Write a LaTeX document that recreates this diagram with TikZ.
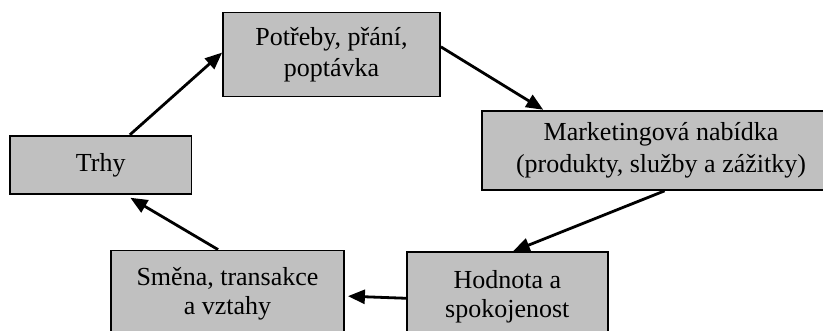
\documentclass[tikz,border=0pt]{standalone}
\usepackage{fontspec}
\setmainfont{Liberation Serif}
\usetikzlibrary{arrows.meta}
\definecolor{boxgray}{HTML}{C0C0C0}
\begin{document}
\begin{tikzpicture}[x=1pt,y=-1pt,
  stage/.style={draw=black, line width=1.8pt, fill=boxgray, align=center,
    inner sep=0pt, font=\fontsize{26}{31.5}\selectfont},
  flow/.style={line width=2.8pt, -{Triangle[length=17pt,width=14pt]}}]
\useasboundingbox (0,0) rectangle (823,330);
\clip (0,0) rectangle (823,330);
\node[stage, minimum width=217pt, minimum height=84pt] (P) at (331.5,54.5)
  {Potřeby, přání,\\poptávka};
\node[stage, minimum width=358pt, minimum height=79.3pt] (M) at (661,150.3)
  {Marketingová nabídka\\(produkty, služby a zážitky)};
\node[stage, minimum width=181.5pt, minimum height=58.6pt] (T) at (100.7,165)
  {Trhy};
\node[stage, minimum width=233pt, minimum height=87pt, font=\fontsize{26}{28.5}\selectfont] (S) at (227.5,294)
  {Směna, transakce\\a vztahy};
\node[stage, minimum width=200.7pt, minimum height=88.4pt, font=\fontsize{26}{28.5}\selectfont] (H) at (507.3,296.5)
  {Hodnota a\\spokojenost};
\draw[flow] (T.46) -- (P.179);
\draw[flow] (P.4) -- (M.161);
\draw[flow] (M.-85) -- (H.83);
\draw[flow, shorten >=3pt] (H.181) -- (S.-1);
\draw[flow, shorten >=5pt] (S.102) -- (T.-50);
\end{tikzpicture}
\end{document}
